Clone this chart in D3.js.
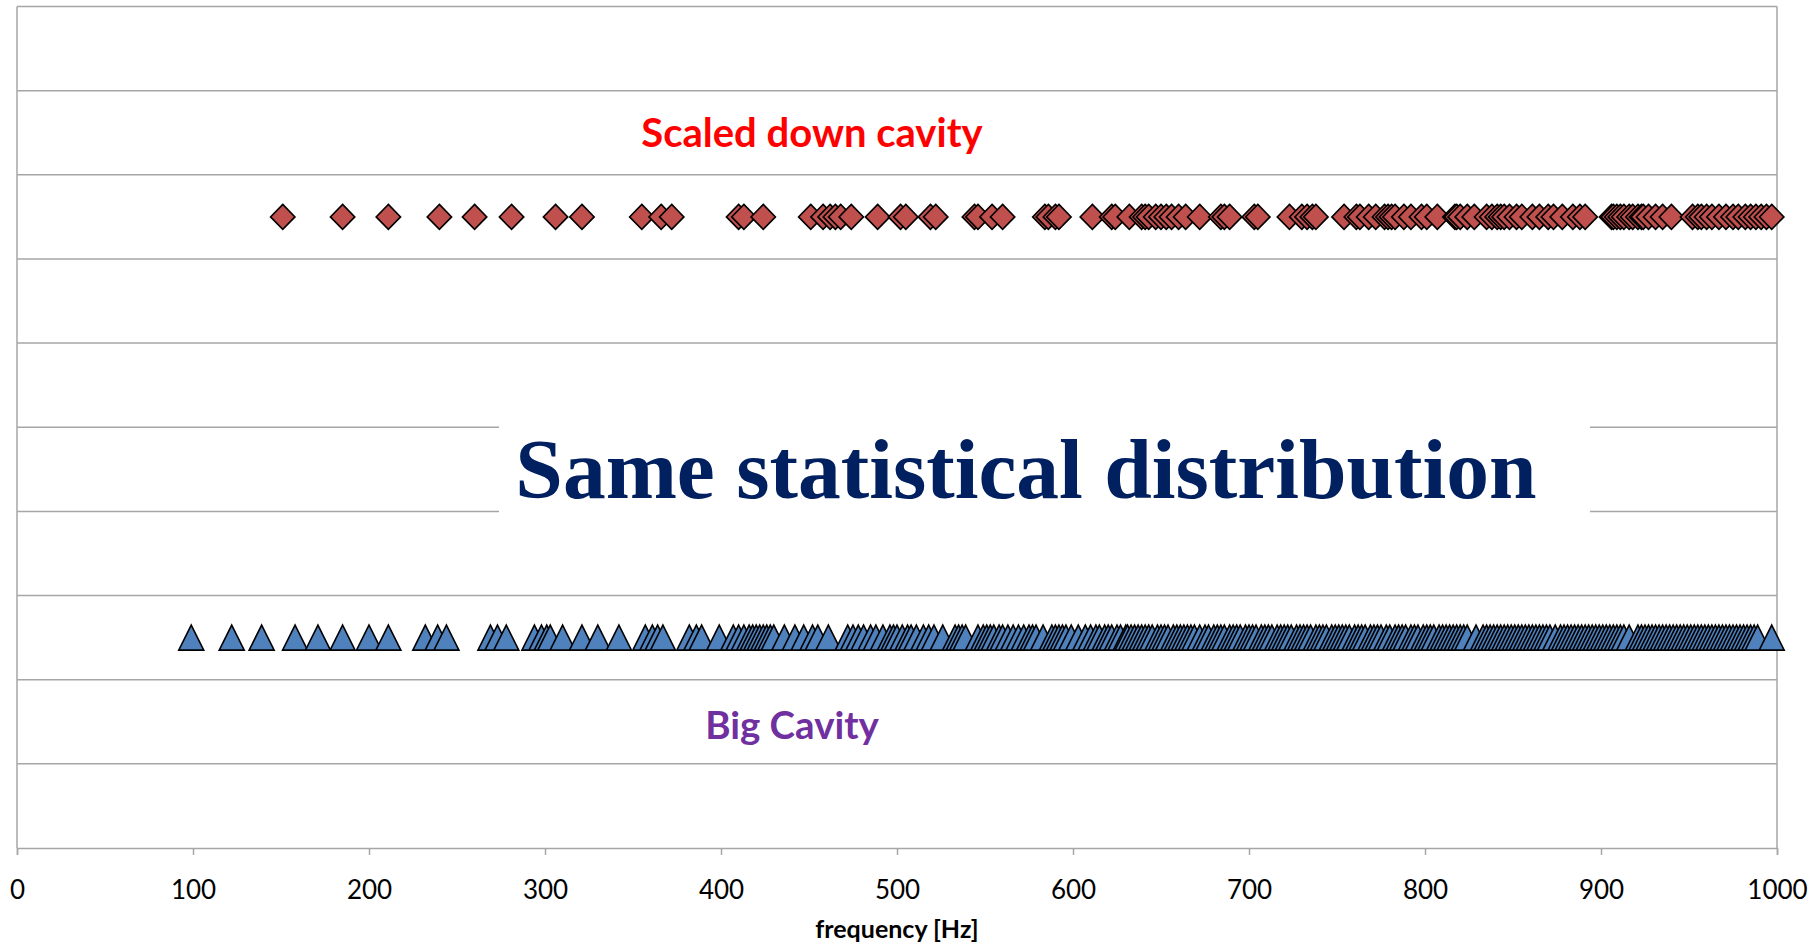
<!DOCTYPE html>
<html><head><meta charset="utf-8">
<script src="https://cdn.jsdelivr.net/npm/d3@7"></script>
<style>body{margin:0;background:#fff}svg{display:block}</style>
</head><body>
<svg id="c" width="1815" height="944"></svg>
<script>
// Scaled down cavity resonances (Hz), drawn at row 7.5
const scaledDown = [151,185,211,240,260,281,306,321,355,366,372,410,413,424,451,458,462,465,468,474,489,502,505,519,522,544,546,554,560,584,586,590,592,611,622,624,632,639,641,643,647,650,653,656,660,664,672,684,686,689,703,705,723,730,733,736,738,754,761,763,768,772,777,779,781,783,788,792,798,801,807,817,818,820,824,828,835,838,841,843,845,848,852,855,861,865,870,873,878,884,888,891,906,907,909,911,913,916,918,921,923,924,927,931,935,940,952,955,957,960,963,967,971,975,978,982,985,988,991,994,997];
// Big cavity resonances (Hz), drawn at row 2.5
const bigCavity = [99,122,139,158,171,185,200,211,232,239,244,269,273,278,294,298,301,303,310,321,330,342,357,361,364,367,382,386,389,399,407,410,413,416,418,420,422,424,426,428,430,436,442,447,452,455,461,472,475,478,481,485,488,492,496,498,500,503,506,508,511,515,518,521,526,533,535,537,539,546,549,551,553,555,558,560,563,566,569,572,575,577,579,583,588,590,592,594,596,599,603,607,610,613,615,618,
620,622,625,627,630,631,633,635,637,639,641,643,645,648,650,652,654,657,659,661,663,665,667,669,672,675,677,680,682,684,686,689,691,693,695,698,700,702,704,707,709,711,713,716,718,720,722,724,727,729,731,733,735,738,740,742,744,747,749,751,753,755,757,760,762,764,766,769,771,773,775,778,780,783,785,787,789,792,794,796,799,801,803,805,808,
810,812,814,816,818,820,822,824,829,833,835,837,839,841,843,845,847,849,851,853,855,857,859,861,863,865,867,869,871,874,877,879,881,883,885,887,889,891,893,895,897,899,901,903,905,907,909,911,913,916,921,923,925,927,929,931,933,935,937,939,941,943,945,947,949,951,953,955,957,959,961,963,965,967,969,971,973,975,977,979,981,983,985,987,989,997];
const xTicks = [0,100,200,300,400,500,600,700,800,900,1000];
const yGrid = [1,2,3,4,5,6,7,8,9,10];
const rowScaled = 7.5, rowBig = 2.5;
const labelScaled = "Scaled down cavity";
const labelBig = "Big Cavity";
const titleText = "Same statistical distribution";
const xTitle = "frequency [Hz]";

const svg = d3.select("#c");
const L = 17, R = 1777, T = 6.5, B = 848;
const x = d3.scaleLinear().domain([0,1000]).range([L,R]);
const y = d3.scaleLinear().domain([0,10]).range([B,T]);
const gridCol = "#a6a6a6";

// gridlines
svg.append("g").selectAll("line").data(yGrid).join("line")
  .attr("x1",L).attr("x2",R).attr("y1",d=>y(d)).attr("y2",d=>y(d))
  .attr("stroke",gridCol).attr("stroke-width",1.5);
// left & right frame
svg.append("line").attr("x1",L).attr("x2",L).attr("y1",T).attr("y2",B).attr("stroke",gridCol).attr("stroke-width",1.5);
svg.append("line").attr("x1",R).attr("x2",R).attr("y1",T).attr("y2",B).attr("stroke",gridCol).attr("stroke-width",1.5);

// x axis
const ax = svg.append("g").attr("transform",`translate(0,${B})`)
  .call(d3.axisBottom(x).tickValues(xTicks).tickSize(7).tickPadding(26).tickFormat(d3.format("d")));
ax.select(".domain").attr("stroke",gridCol).attr("stroke-width",1.5);
ax.selectAll(".tick line").attr("stroke",gridCol).attr("stroke-width",1.5);
ax.selectAll(".tick text").attr("font-family","Lato, 'Open Sans', sans-serif").attr("font-size",26).attr("fill","#000");

svg.append("text").attr("x",(L+R)/2).attr("y",938).attr("text-anchor","middle")
  .attr("font-family","Lato, sans-serif").attr("font-weight","bold").attr("font-size",25).text(xTitle);

// title box
svg.append("rect").attr("x",499).attr("y",420).attr("width",1091).attr("height",98).attr("fill","#fff");
svg.append("text").attr("x",1026).attr("y",498).attr("text-anchor","middle")
  .attr("font-family","'Liberation Serif', 'Times New Roman', serif").attr("font-weight","bold")
  .attr("font-size",85.5).attr("fill","#002060").text(titleText);

// series labels
svg.append("text").attr("x",812).attr("y",147).attr("text-anchor","middle")
  .attr("font-family","Lato, sans-serif").attr("font-weight","bold").attr("font-size",40).attr("fill","#ff0000").text(labelScaled);
svg.append("text").attr("x",792).attr("y",739).attr("text-anchor","middle")
  .attr("font-family","Lato, sans-serif").attr("font-weight","bold").attr("font-size",38.5).attr("fill","#7030a0").text(labelBig);

// markers
const dia = "M0,-12.5L12.2,0L0,12.5L-12.2,0Z";
const tri = "M0,-12.5L12.5,12.5L-12.5,12.5Z";
svg.append("g").selectAll("path").data(scaledDown.slice().sort((a,b)=>a-b)).join("path")
  .attr("d",dia).attr("transform",d=>`translate(${x(d)},${y(rowScaled)})`)
  .attr("fill","#c0504d").attr("stroke","#000").attr("stroke-width",1.6).attr("stroke-linejoin","miter");
svg.append("g").selectAll("path").data(bigCavity.slice().sort((a,b)=>a-b)).join("path")
  .attr("d",tri).attr("transform",d=>`translate(${x(d)},${y(rowBig)})`)
  .attr("fill","#4f81bd").attr("stroke","#000").attr("stroke-width",1.6).attr("stroke-linejoin","miter");
</script>
</body></html>
